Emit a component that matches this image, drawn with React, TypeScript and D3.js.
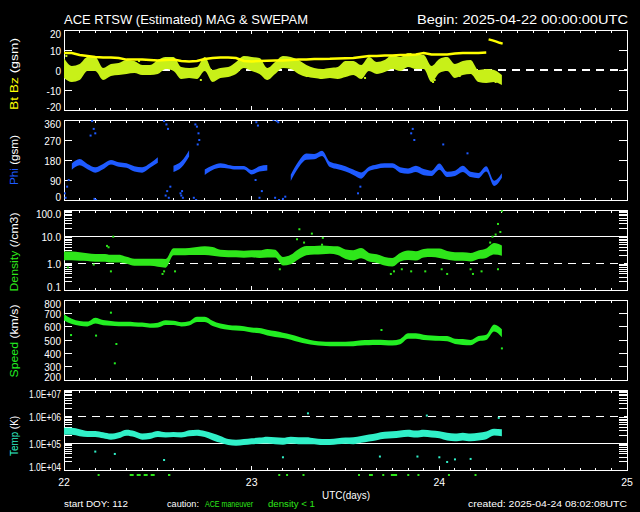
import React from 'react';
import * as d3 from 'd3';

// ---------- data (hour offsets from 2025-04-22 00:00 UTC) ----------
const hours = [0,1,2,3,4,5,6,7,8,9,10,11,12,13,14,15,16,17,18,19,20,21,22,23,24,25,26,27,28,29,30,31,32,33,34,35,36,37,38,39,40,41,42,43,44,45,46,47,48,49,50,51,52,53,54,55,56];

const btValues = [8.5,8.5,7.5,7,6.5,6.3,6.3,6,5.2,5.2,5.2,5,4.8,5,5.2,4.5,4.3,4.5,5.5,6,6.3,6.3,6,4.5,4.3,4.5,4.6,4.7,4.8,5,5.2,5.3,5.5,5.5,5.6,5.8,5.9,6,6.5,7,7,7.2,7.3,7.5,7.5,7.8,8.5,7.8,7.7,7.8,8.2,8.5,8.5,8.5,8.7];
const btJumpHours = [54.3, 54.8, 55.3, 55.7, 56.1];
const btJump = [15.3, 14.8, 14.2, 13.6, 13.2];

const bzValues = [1,-2,-1,3,3,-2,0,0.5,1.5,1.5,0,0,1.5,3.5,3,-1.5,-1.5,-1.5,3,-3,-1.5,-1,1,4,3,2,-2,1,4,3.5,1.5,-0.5,-1.5,-2,-1.5,-1.5,0.5,1,-1,3,1,2,4,3,5,4,4,-2,2,3,-0.5,1,1.5,-3,-3,-3,-5];
const bzSpread = [5,4,4,3.5,3.5,3,3,3,3.5,3,2.5,2.5,3.5,3,3.5,3,2.5,3,3.5,3,2.5,2.5,3,3,3.5,4,3,3,3,3,3.5,3,2.5,2.5,2.5,3,4,3.5,3.5,3.5,3,3,3.5,3.5,3.5,3.5,3.5,4,3.5,3.5,3.5,3.5,3.5,3,3.5,3,2.5];
const bzOutHours = [0.3,1.5,1.8,2.8,5.2,9.6,13.2,17.5,19.2,25.8,32.6,36.0,38.5,44.3,47.2,47.4,50.6,53.5,54.5,55.2];
const bzOutValues = [7,-5,-4,7,-3.5,4.5,6,-5,-4.5,-4,-3.5,6,-4,8,-6,-5,-3,-5,-5.5,-6];

const phiValues = [null,150,170,150,135,150,170,160,155,140,135,155,180,null,140,160,210,null,125,145,155,150,145,145,125,140,145,null,null,100,160,195,195,210,160,150,140,125,110,140,150,155,155,135,130,140,125,120,150,115,120,140,115,110,140,75,110];
const phiSpread = [12,14,14,12,12,12,10,10,10,12,12,10,12,12,14,14,14,12,12,10,10,8,8,8,10,12,12,12,12,14,14,14,12,12,12,12,12,12,14,10,10,10,10,12,12,14,14,12,14,12,12,14,12,12,12,12,10];
const phiOutHours = [0.1,0.2,0.4,0.6,3.4,3.6,3.8,3.9,4.0,4.1,12.8,13.0,13.1,13.2,13.3,13.4,13.6,14.9,15.0,15.1,15.2,16.6,16.8,16.9,17.0,17.1,17.2,17.3,24.5,24.6,24.8,25.0,25.3,26.8,27.0,27.2,27.4,27.5,28.0,28.3,37.6,37.9,44.4,44.6,44.8,48.5,51.6];
const phiOutValues = [30,10,60,90,290,355,320,5,300,0,355,20,340,40,320,10,60,30,20,40,10,10,340,0,330,250,300,270,90,350,335,10,40,360,10,355,350,0,5,15,30,60,300,320,270,250,210];

const densValues = [1.9,1.9,1.8,1.7,1.6,1.6,1.5,1.5,1.3,1.1,1.1,1.1,1.05,1.0,2.7,2.7,2.8,2.9,3.0,2.8,2.4,2.3,2.3,2.2,2.3,2.2,2.4,2.3,1.2,1.4,2.2,3.0,3.1,3.2,3.2,3.0,2.2,2.0,2.4,1.7,1.5,1.2,1.1,1.7,2.0,1.9,2.4,2.5,2.4,2.0,1.8,1.8,1.7,2.1,2.4,3.5,3.0];
const densSpread = [1.45,1.45,1.45,1.4,1.4,1.4,1.4,1.4,1.35,1.35,1.35,1.35,1.4,1.45,1.35,1.35,1.35,1.4,1.45,1.45,1.35,1.35,1.35,1.35,1.35,1.4,1.45,1.4,1.45,1.5,1.55,1.5,1.45,1.45,1.4,1.45,1.5,1.55,1.55,1.45,1.45,1.45,1.45,1.45,1.5,1.5,1.45,1.45,1.5,1.45,1.45,1.45,1.45,1.45,1.5,1.65,1.55];
const densOutHours = [0.5,3.8,5.5,5.7,6.0,6.3,12.6,12.8,14.2,27.6,29.8,30.1,30.7,31.7,33.0,33.1,41.8,42.2,43.2,44.4,46.2,48.3,49.0,52.0,52.3,53.4,54.5,54.8,55.2,55.5,55.5,55.8,56.0];
const densOutValues = [0.7,0.9,4.5,4,0.5,10,0.4,0.5,0.5,0.6,8,19,6,13,5,9,0.4,0.5,0.6,0.5,0.5,0.6,0.4,0.6,0.4,0.5,6,10,12,30,0.6,15,90];

const speedValues = [670,640,625,620,645,630,625,620,620,618,615,608,612,630,628,618,625,655,655,625,605,595,590,585,575,570,555,545,535,522,505,490,478,472,470,470,470,472,478,480,482,480,478,488,530,530,520,515,512,510,490,485,480,510,520,590,550];
const speedSpread = [23,20,18,18,22,20,18,16,16,16,16,16,18,18,16,16,16,20,20,20,18,18,18,18,18,20,22,22,20,20,20,18,16,16,16,16,16,18,20,20,20,20,20,20,20,20,20,18,18,20,20,22,20,20,20,26,30];
const speedOutHours = [0.9,4.1,6.0,6.5,6.7,40.6,56.0];
const speedOutValues = [537,533,705,325,470,575,437];

const tempValues = [282000,282000,251000,224000,224000,200000,178000,200000,251000,224000,178000,190000,224000,209000,214000,209000,240000,251000,224000,178000,141000,112000,105000,112000,120000,126000,132000,126000,120000,132000,126000,126000,120000,112000,112000,120000,126000,126000,141000,158000,178000,200000,209000,224000,240000,224000,240000,224000,209000,178000,166000,178000,166000,178000,200000,263000,251000];
const tempSpread = [1.35,1.35,1.35,1.3,1.3,1.3,1.3,1.3,1.3,1.3,1.3,1.3,1.3,1.25,1.25,1.25,1.3,1.3,1.3,1.35,1.35,1.3,1.3,1.3,1.3,1.3,1.35,1.35,1.35,1.35,1.35,1.35,1.3,1.3,1.3,1.3,1.3,1.35,1.35,1.35,1.35,1.35,1.35,1.35,1.35,1.35,1.35,1.35,1.35,1.4,1.4,1.4,1.4,1.4,1.4,1.35,1.35];
const tempOutHours = [4.0,6.5,12.8,28.0,31.2,40.4,45.2,46.4,48.0,49.0,50.0,52.0,55.6];
const tempOutValues = [49000,40000,23700,30000,1330000,32000,32000,1100000,30000,20000,25000,26000,900000];

const flagStarts = [4.3,8.4,13.3,27.4,28.4,30.5,37.6,39.0,40.7,41.8,43.9,45.2,49.1,52.5];
const flagEnds = [4.5,11.9,13.6,27.6,28.6,30.7,37.8,39.5,40.9,42.6,44.1,45.4,49.3,52.7];

const dayTicks = [22, 23, 24, 25];
const bTicks = [-20, -10, 0, 10, 20];
const phiTicks = [0, 90, 180, 270, 360];
const speedTicks = [200, 300, 400, 500, 600, 700, 800];
const densTicks = [0.1, 1, 10, 100];
const densLabels = ['0.1', '1.0', '10.0', '100.0'];
const tempTicks = [1e4, 1e5, 1e6, 1e7];
const tempLabels = ['1.0E+04', '1.0E+05', '1.0E+06', '1.0E+07'];

// ---------- layout ----------
const W = 640, H = 512;
const X0 = 64, X1 = 627;
const TOPS = [30, 120, 210, 300, 390];
const PH = 80;
const FONT = '"Liberation Sans", Arial, sans-serif';

const C_BT = '#ffff00';
const C_BZ = '#c8f018';
const C_PHI = '#1e5aff';
const C_DENS = '#2ee61a';
const C_SPEED = '#22ee22';
const C_TEMP = '#30f0c8';

const x = d3.scaleLinear().domain([22, 25]).range([X0, X1]);
const hx = (h: number) => x(22 + h / 24);

type Scale = (v: number) => number;

function Frame({ top, y, majors, labels, minors, lineSolid, lineDash, labelLen }: {
  top: number; y: Scale; majors: number[]; labels: string[]; minors: number[];
  lineSolid?: number; lineDash?: number; labelLen?: number;
}) {
  const bottom = top + PH;
  const xt: JSX.Element[] = [];
  for (let i = 0; i <= 36; i++) {
    const d = 22 + i / 12;
    const px = x(d);
    const len = i % 12 === 0 ? 4 : 2.5;
    xt.push(<line key={'b' + i} x1={px} x2={px} y1={bottom} y2={bottom - len} />);
    xt.push(<line key={'t' + i} x1={px} x2={px} y1={top} y2={top + len} />);
  }
  const yt = minors.map((v, i) => (
    <g key={'m' + i}>
      <line x1={X0} x2={X0 + 8} y1={y(v)} y2={y(v)} />
      <line x1={X1} x2={X1 - 8} y1={y(v)} y2={y(v)} />
    </g>
  ));
  return (
    <g stroke="#fff" strokeWidth={1} fill="none" shapeRendering="crispEdges">
      {lineSolid !== undefined && <line x1={X0} x2={X1} y1={y(lineSolid)} y2={y(lineSolid)} strokeWidth={1.5} />}
      {lineDash !== undefined && <line x1={X0} x2={X1} y1={y(lineDash)} y2={y(lineDash)} strokeWidth={1.5} strokeDasharray="8 6" />}
      <rect x={X0} y={top} width={X1 - X0} height={PH} />
      {xt}
      {yt}
      <g stroke="none" fill="#fff" fontFamily={FONT} fontSize={10} textAnchor="end">
        {majors.map((v, i) => {
          const cy = Math.min(Math.max(y(v) + 1, top + 4), bottom - 2.5);
          return (
            <text key={i} x={61} y={cy + 3.6} {...(labelLen ? { textLength: labelLen, lengthAdjust: 'spacingAndGlyphs' } : {})}>{labels[i]}</text>
          );
        })}
      </g>
    </g>
  );
}

function Dots({ hs, vs, y, color }: { hs: number[]; vs: number[]; y: Scale; color: string }) {
  return (
    <g fill={color}>
      {hs.map((h, i) => <rect key={i} x={hx(h) - 1} y={y(vs[i]) - 1} width={2} height={2} />)}
    </g>
  );
}

function YLabel({ cy, parts, len }: { cy: number; parts: [string, string][]; len: number }) {
  return (
    <text transform={`translate(17.5,${cy}) rotate(-90)`} textAnchor="middle" fontFamily={FONT} fontSize={10.5}
      textLength={len} lengthAdjust="spacingAndGlyphs">
      {parts.map(([t, c], i) => <tspan key={i} fill={c}>{t}</tspan>)}
    </text>
  );
}

export default function App() {
  const [t1, t2, t3, t4, t5] = TOPS;
  const yB = d3.scaleLinear().domain([-20, 20]).range([t1 + PH, t1]);
  const yPhi = d3.scaleLinear().domain([0, 360]).range([t2 + PH, t2]);
  const yD = d3.scaleLog().domain([0.1, 100]).range([t3 + PH, t3]);
  const yS = d3.scaleLinear().domain([200, 800]).range([t4 + PH, t4]);
  const yT = d3.scaleLog().domain([1e4, 1e7]).range([t5 + PH, t5]);

  const logMinors = (lo: number, hi: number) => {
    const out: number[] = [];
    for (let dec = lo; dec < hi; dec *= 10) for (let k = 2; k <= 9; k++) out.push(dec * k);
    return out;
  };

  const btHours = hours.slice(0, btValues.length);
  const btLine = d3.line<number>().x((_, i) => hx(btHours[i])).y(v => yB(v));
  const btJumpLine = d3.line<number>().x((_, i) => hx(btJumpHours[i])).y(v => yB(v));

  const bzArea = d3.area<number>().x((_, i) => hx(hours[i]))
    .y0((v, i) => yB(v - bzSpread[i])).y1((v, i) => yB(v + bzSpread[i])).curve(d3.curveMonotoneX);

  const phiArea = d3.area<number | null>().defined(v => v !== null).x((_, i) => hx(hours[i]))
    .y0((v, i) => yPhi((v as number) - phiSpread[i])).y1((v, i) => yPhi((v as number) + phiSpread[i])).curve(d3.curveMonotoneX);

  const logArea = (vals: number[], spread: number[], y: Scale) => d3.area<number>().x((_, i) => hx(hours[i]))
    .y0((v, i) => y(v / spread[i])).y1((v, i) => y(v * spread[i])).curve(d3.curveMonotoneX)(vals) || '';

  const spArea = d3.area<number>().x((_, i) => hx(hours[i]))
    .y0((v, i) => yS(v - speedSpread[i])).y1((v, i) => yS(v + speedSpread[i])).curve(d3.curveMonotoneX);

  return (
    <svg width={W} height={H} style={{ position: 'absolute', left: 0, top: 0, background: '#000' }}>
      <rect width={W} height={H} fill="#000" />
      <defs>
        {TOPS.map((t, i) => (
          <clipPath id={'clip' + i} key={i}><rect x={X0} y={t} width={X1 - X0} height={PH} /></clipPath>
        ))}
      </defs>

      {/* titles */}
      <text x={64} y={24} fill="#fff" fontFamily={FONT} fontSize={13.5} textLength={244} lengthAdjust="spacingAndGlyphs">ACE RTSW (Estimated) MAG &amp; SWEPAM</text>
      <text x={628} y={24} fill="#fff" fontFamily={FONT} fontSize={13.5} textAnchor="end" textLength={211} lengthAdjust="spacingAndGlyphs">Begin: 2025-04-22 00:00:00UTC</text>

      {/* panel 1: Bt Bz */}
      <Frame top={t1} y={yB} majors={bTicks} labels={bTicks.map(String)} minors={[-10, 0, 10]} lineDash={0} />
      <g clipPath="url(#clip0)">
        <path d={bzArea(bzValues) || ''} fill={C_BZ} />
        <Dots hs={bzOutHours} vs={bzOutValues} y={yB} color={C_BZ} />
        <path d={btLine(btValues) || ''} fill="none" stroke={C_BT} strokeWidth={2.5} />
        <path d={btJumpLine(btJump) || ''} fill="none" stroke={C_BT} strokeWidth={2.5} />
      </g>
      <YLabel cy={74} len={72} parts={[['Bt ', C_BT], ['Bz ', C_BT], ['(gsm)', '#fff']]} />

      {/* panel 2: Phi */}
      <Frame top={t2} y={yPhi} majors={phiTicks} labels={phiTicks.map(String)} minors={[90, 180, 270]} />
      <g clipPath="url(#clip1)">
        <path d={phiArea(phiValues) || ''} fill={C_PHI} />
        <Dots hs={phiOutHours} vs={phiOutValues} y={yPhi} color={C_PHI} />
      </g>
      <YLabel cy={160} len={50} parts={[['Phi ', C_PHI], ['(gsm)', '#fff']]} />

      {/* panel 3: Density */}
      <Frame top={t3} y={yD} majors={densTicks} labels={densLabels} minors={logMinors(0.1, 100)} lineSolid={10} lineDash={1} />
      <g clipPath="url(#clip2)">
        <path d={logArea(densValues, densSpread, yD)} fill={C_DENS} />
        <Dots hs={densOutHours} vs={densOutValues} y={yD} color={C_DENS} />
      </g>
      <YLabel cy={252} len={79} parts={[['Density ', C_DENS], ['(/cm3)', '#fff']]} />

      {/* panel 4: Speed */}
      <Frame top={t4} y={yS} majors={speedTicks} labels={speedTicks.map(String)} minors={[300, 400, 500, 600, 700]} />
      <g clipPath="url(#clip3)">
        <path d={spArea(speedValues) || ''} fill={C_SPEED} />
        <Dots hs={speedOutHours} vs={speedOutValues} y={yS} color={C_SPEED} />
      </g>
      <YLabel cy={341} len={73} parts={[['Speed ', C_SPEED], ['(km/s)', '#fff']]} />

      {/* panel 5: Temp */}
      <Frame top={t5} y={yT} majors={tempTicks} labels={tempLabels} minors={logMinors(1e4, 1e7)} lineSolid={1e5} lineDash={1e6} labelLen={32} />
      <g clipPath="url(#clip4)">
        <path d={logArea(tempValues, tempSpread, yT)} fill={C_TEMP} />
        <Dots hs={tempOutHours} vs={tempOutValues} y={yT} color={C_TEMP} />
      </g>
      <YLabel cy={436} len={40} parts={[['Temp ', C_TEMP], ['(K)', '#fff']]} />

      {/* flags under the last panel */}
      <g stroke={C_DENS} strokeWidth={2}>
        {flagStarts.map((s, i) => (
          <line key={i} x1={hx(s)} x2={Math.max(hx(flagEnds[i]), hx(s) + 2)} y1={475} y2={475}
            strokeDasharray={flagEnds[i] - s > 1 ? '4 3' : undefined} />
        ))}
      </g>

      {/* x axis labels */}
      <g fill="#fff" fontFamily={FONT} fontSize={10.5} textAnchor="middle">
        {dayTicks.map(d => <text key={d} x={x(d)} y={486}>{d}</text>)}
      </g>
      <text x={322} y={499} fill="#fff" fontFamily={FONT} fontSize={10.5} textLength={48} lengthAdjust="spacingAndGlyphs">UTC(days)</text>
      <g fontFamily={FONT} fontSize={8.5}>
        <text x={64} y={507} fill="#fff" textLength={64} lengthAdjust="spacingAndGlyphs">start DOY: 112</text>
        <text x={167} y={507} fill="#fff" textLength={32} lengthAdjust="spacingAndGlyphs">caution:</text>
        <text x={205} y={507} fill={C_DENS} textLength={48} lengthAdjust="spacingAndGlyphs">ACE maneuver</text>
        <text x={268} y={507} fill={C_DENS} textLength={47} lengthAdjust="spacingAndGlyphs">density &lt; 1</text>
        <text x={627} y={507} fill="#fff" textAnchor="end" textLength={159} lengthAdjust="spacingAndGlyphs">created: 2025-04-24 08:02:08UTC</text>
      </g>
    </svg>
  );
}
